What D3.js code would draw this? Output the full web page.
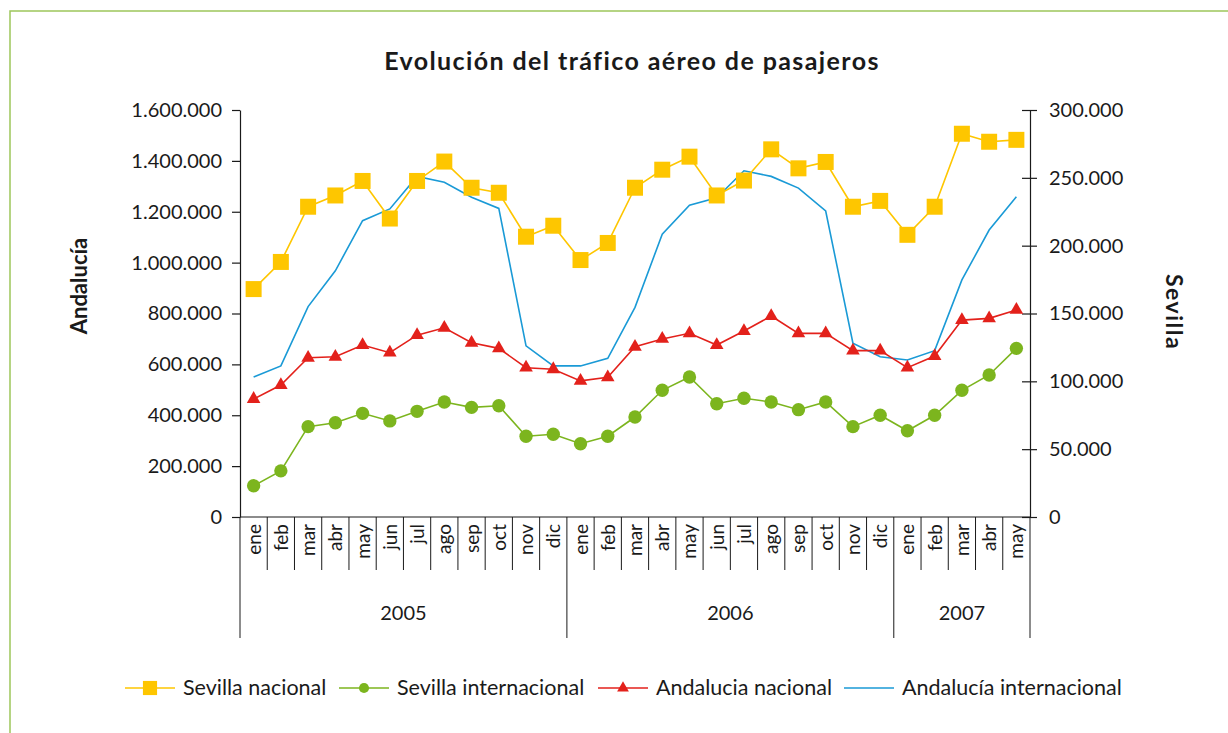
<!DOCTYPE html>
<html>
<head>
<meta charset="utf-8">
<script src="https://cdn.jsdelivr.net/npm/d3@7"></script>
<style>
  body { margin: 0; background: #fff; }
  text { font-family: Lato, "Open Sans", sans-serif; fill: #1a1a1a; }
</style>
</head>
<body>
<div id="container"></div>
<script>
// data
let months = ["ene","feb","mar","abr","may","jun","jul","ago","sep","oct","nov","dic",
              "ene","feb","mar","abr","may","jun","jul","ago","sep","oct","nov","dic",
              "ene","feb","mar","abr","may"];
let years = [{label: "2005", start: 0, end: 12}, {label: "2006", start: 12, end: 24}, {label: "2007", start: 24, end: 29}];

// right axis (Sevilla)
let sevillaNacional = [168000,188000,228700,237000,247700,220000,247700,262000,242700,239000,206600,214700,
                       189400,202000,242700,256000,265600,237000,248000,271000,257000,261700,228700,233000,
                       208000,228700,282500,276600,278000];
let sevillaInternacional = [23000,34000,66600,69500,76400,70800,77900,84800,80800,82000,59500,61000,
                            54000,59500,73700,93400,103200,83500,87500,84800,79100,84800,66600,75000,
                            63600,75000,93400,104700,124300];
// left axis (Andalucía)
let andaluciaNacional = [464000,519000,626000,630000,676000,646000,715000,744000,685000,663000,587000,581000,
                         535000,549000,669000,700000,722000,676000,731000,790000,722000,722000,654000,654000,
                         587000,633000,774000,781000,814000];
let andaluciaInternacional = [550000,594000,827000,968000,1165000,1211000,1339000,1316000,1257000,1213000,673000,594000,
                              594000,624000,824000,1112000,1226000,1255000,1361000,1339000,1293000,1203000,683000,630000,
                              617000,654000,932000,1128000,1259000];
let leftTicks = [0,200000,400000,600000,800000,1000000,1200000,1400000,1600000];
let rightTicks = [0,50000,100000,150000,200000,250000,300000];

w = 1228;
h = 733;

let es = d3.formatLocale({decimal: ",", thousands: ".", grouping: [3], currency: ["", " €"]});
let fmt = es.format(",");

let viz = d3.select("#container")
  .append("svg")
    .attr("width", w)
    .attr("height", h)
;

// green frame
viz.append("path")
  .attr("d", "M10,733 L10,11 L1228,11")
  .attr("fill", "none")
  .attr("stroke", "#9dc65b")
  .attr("stroke-width", 1.5)
;

viz.append("text")
  .text("Evolución del tráfico aéreo de pasajeros")
  .attr("x", 632)
  .attr("y", 70)
  .attr("text-anchor", "middle")
  .style("font-size", "25px")
  .style("font-weight", "bold")
  .style("letter-spacing", "1.4px")
;

let x0 = 240, x1 = 1030, yTop = 110, yBot = 517;

let x = d3.scaleBand().domain(d3.range(months.length)).range([x0, x1]);
let yLeft = d3.scaleLinear().domain([0, 1600000]).range([yBot, yTop]);
let yRight = d3.scaleLinear().domain([0, 300000]).range([yBot, yTop]);

// left axis
let leftAxis = viz.append("g")
  .attr("transform", "translate(" + x0 + ",0)")
  .call(d3.axisLeft(yLeft).tickValues(leftTicks).tickFormat(fmt).tickSize(8).tickSizeOuter(0).tickPadding(10));
leftAxis.selectAll("text").style("font-size", "20px").attr("fill", "#1a1a1a");
leftAxis.selectAll("line, path").attr("stroke", "#1a1a1a").attr("stroke-width", 1.2);

// right axis
let rightAxis = viz.append("g")
  .attr("transform", "translate(" + x1 + ",0)")
  .call(d3.axisRight(yRight).tickValues(rightTicks).tickFormat(fmt).tickSize(7).tickSizeOuter(0).tickPadding(12));
rightAxis.selectAll(".tick line").attr("x1", -8);
rightAxis.selectAll("text").style("font-size", "20px").attr("fill", "#1a1a1a");
rightAxis.selectAll("line, path").attr("stroke", "#1a1a1a").attr("stroke-width", 1.2);

// axis titles
viz.append("text")
  .text("Andalucía")
  .attr("transform", "translate(87,286) rotate(-90)")
  .attr("text-anchor", "middle")
  .style("font-size", "22px")
  .style("font-weight", "bold")
;
viz.append("text")
  .text("Sevilla")
  .attr("transform", "translate(1166,312) rotate(90)")
  .attr("text-anchor", "middle")
  .style("font-size", "23px")
  .style("font-weight", "bold")
  .style("letter-spacing", "1.5px")
;

// category axis
let catGroup = viz.append("g").attr("class", "catAxis");
catGroup.append("line")
  .attr("x1", x0).attr("x2", x1)
  .attr("y1", yBot).attr("y2", yBot)
  .attr("stroke", "#1a1a1a").attr("stroke-width", 1.2)
;
let bounds = d3.range(months.length + 1);
let yearBounds = [0, 12, 24, 29];
catGroup.selectAll(".sep").data(bounds).enter()
  .append("line")
    .attr("class", "sep")
    .attr("x1", d => d < months.length ? x(d) : x1)
    .attr("x2", d => d < months.length ? x(d) : x1)
    .attr("y1", yBot)
    .attr("y2", d => yearBounds.includes(d) ? 638 : 570)
    .attr("stroke", "#1a1a1a").attr("stroke-width", 1)
;
catGroup.selectAll(".month").data(months).enter()
  .append("text")
    .attr("class", "month")
    .text(d => d)
    .attr("transform", (d, i) => "translate(" + (x(i) + x.bandwidth() / 2 + 7) + ",524) rotate(-90)")
    .attr("text-anchor", "end")
    .style("font-size", "19px")
;
catGroup.selectAll(".year").data(years).enter()
  .append("text")
    .attr("class", "year")
    .text(d => d.label)
    .attr("x", d => (x(d.start) + (d.end < months.length ? x(d.end) : x1)) / 2)
    .attr("y", 620)
    .attr("text-anchor", "middle")
    .style("font-size", "20px")
;

// series
let series = [
  {name: "Sevilla nacional", values: sevillaNacional, scale: yRight, color: "#fec600", symbol: d3.symbolSquare, size: 256, legendSize: 200},
  {name: "Sevilla internacional", values: sevillaInternacional, scale: yRight, color: "#7cb51e", symbol: d3.symbolCircle, size: 140, legendSize: 80},
  {name: "Andalucia nacional", values: andaluciaNacional, scale: yLeft, color: "#e3211b", symbol: d3.symbolTriangle, size: 80, legendSize: 60},
  {name: "Andalucía internacional", values: andaluciaInternacional, scale: yLeft, color: "#1a9ad6", symbol: null}
];

let drawOrder = [3, 2, 1, 0];
drawOrder.forEach(function(k){
  let s = series[k];
  let g = viz.append("g").attr("class", "series");
  let line = d3.line()
    .x((d, i) => x(i) + x.bandwidth() / 2)
    .y(d => s.scale(d));
  g.append("path")
    .datum(s.values)
    .attr("d", line)
    .attr("fill", "none")
    .attr("stroke", s.color)
    .attr("stroke-width", 1.6)
  ;
  if (s.symbol) {
    g.selectAll(".pt").data(s.values).enter()
      .append("path")
        .attr("class", "pt")
        .attr("d", d3.symbol().type(s.symbol).size(s.size))
        .attr("transform", (d, i) => "translate(" + (x(i) + x.bandwidth() / 2) + "," + s.scale(d) + ")")
        .attr("fill", s.color)
    ;
  }
});

// legend
let legendX = [125, 339, 598, 844];
let legend = viz.append("g").attr("class", "legend");
series.forEach(function(s, k){
  let lg = legend.append("g").attr("transform", "translate(" + legendX[k] + ",688)");
  lg.append("line")
    .attr("x1", 0).attr("x2", 50)
    .attr("y1", 0).attr("y2", 0)
    .attr("stroke", s.color).attr("stroke-width", 1.6);
  if (s.symbol) {
    lg.append("path")
      .attr("d", d3.symbol().type(s.symbol).size(s.legendSize))
      .attr("transform", "translate(25,0)")
      .attr("fill", s.color);
  }
  lg.append("text")
    .text(s.name)
    .attr("x", 58)
    .attr("y", 7)
    .style("font-size", "21.5px");
});
</script>
</body>
</html>
